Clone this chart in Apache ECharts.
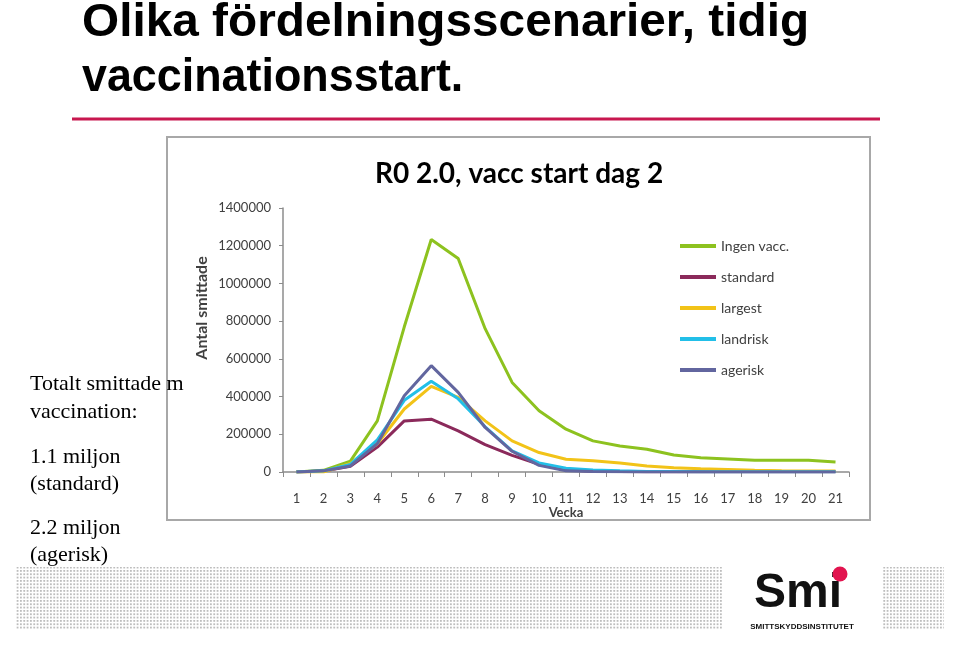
<!DOCTYPE html>
<html>
<head>
<meta charset="utf-8">
<script src="https://cdn.jsdelivr.net/npm/echarts@6/dist/echarts.min.js"></script>
<style>
html,body{margin:0;padding:0;background:#fff;}
#c{width:960px;height:645px;}
</style>
</head>
<body>
<div id="c"></div>
<script>
// ---- data ----
var weeks = ['1','2','3','4','5','6','7','8','9','10','11','12','13','14','15','16','17','18','19','20','21'];
var seriesNames = ['Ingen vacc.', 'standard', 'largest', 'landrisk', 'agerisk'];
var ingenVacc = [0, 9000, 58000, 271000, 770000, 1233000, 1132000, 760000, 475000, 325000, 227000, 165000, 138000, 121000, 90000, 76000, 69000, 62000, 62000, 62000, 53000];
var standard  = [0, 5000, 30000, 132000, 271000, 280000, 218000, 145000, 88000, 41000, 12000, 4000, 2000, 1000, 1000, 1000, 1000, 1000, 1000, 1000, 1000];
var largest   = [0, 0, 45000, 150000, 334000, 454000, 396000, 271000, 165000, 103000, 68000, 60000, 48000, 32000, 23000, 17000, 13000, 9000, 6000, 5000, 5000];
var landrisk  = [0, 6000, 40000, 170000, 380000, 481000, 388000, 240000, 112000, 48000, 20000, 10000, 6000, 3000, 2000, 1000, 1000, 1000, 1000, 1000, 1000];
var agerisk   = [0, 6000, 32000, 150000, 404000, 564000, 422000, 236000, 110000, 35000, 6000, 2000, 1000, 500, 500, 500, 500, 500, 500, 500, 500];
var yTicks = { min: 0, max: 1400000, interval: 200000 };
var pageTitle = ['Olika fördelningsscenarier, tidig', 'vaccinationsstart.'];
var chartTitle = 'R0 2.0, vacc start dag 2';
var sideText = ['Totalt smittade m', 'vaccination:', '1.1 miljon', '(standard)', '2.2 miljon', '(agerisk)'];

var colors = ['#8dc21f', '#8b2a5b', '#f2c318', '#22bfe8', '#62669f'];
var values = [ingenVacc, standard, largest, landrisk, agerisk];

// dot pattern
var pc = document.createElement('canvas');
pc.width = 10; pc.height = 10;
var pctx = pc.getContext('2d');
pctx.fillStyle = '#bdbdbd';
for (var i = 0; i < 3; i++) for (var j = 0; j < 3; j++) {
  pctx.fillRect(i * 10 / 3, j * 10 / 3, 1.8, 1.8);
}

var chart = echarts.init(document.getElementById('c'), null, { renderer: 'canvas' });

// baselines of side text lines (converted to middle: baseline - 0.3375*fontSize)
var sideBase = [392, 420, 465, 492, 536, 563];

var sansFont = '"Liberation Sans", Arial, sans-serif';
var graphics = [
  // chart frame
  { type: 'rect', shape: { x: 167, y: 137, width: 703, height: 383 }, style: { fill: '#fff', stroke: '#a8a8a8', lineWidth: 2 }, z: -10, silent: true },
  // red rule
  { type: 'rect', shape: { x: 72, y: 117.5, width: 808, height: 3 }, style: { fill: '#c8174f' }, silent: true },
  // dot panels
  { type: 'rect', shape: { x: 16, y: 567, width: 707, height: 62 }, style: { fill: { image: pc, repeat: 'repeat' } }, silent: true, z: -20 },
  { type: 'rect', shape: { x: 883, y: 567, width: 61, height: 62 }, style: { fill: { image: pc, repeat: 'repeat' } }, silent: true, z: -20 },
  // page title
  { type: 'text', x: 82, y: 39 - 0.3465 * 47, scaleX: 1.016, style: { text: pageTitle[0], font: 'bold 47px ' + sansFont, fill: '#000', verticalAlign: 'middle' }, silent: true },
  { type: 'text', x: 82, y: 94 - 0.3465 * 47, scaleX: 0.954, style: { text: pageTitle[1], font: 'bold 47px ' + sansFont, fill: '#000', verticalAlign: 'middle' }, silent: true },
  // chart title
  { type: 'text', x: 519, y: 174, style: { text: chartTitle, font: 'bold 28px Lato, sans-serif', fill: '#000', align: 'center', verticalAlign: 'middle' }, silent: true },
  // y axis name
  { type: 'text', x: 202, y: 308, rotation: Math.PI / 2, style: { text: 'Antal smittade', font: 'bold 16px Lato, sans-serif', fill: '#404040', align: 'center', verticalAlign: 'middle' }, silent: true },
  // logo
  { type: 'text', x: 754, y: 610 - 0.3465 * 48, style: { text: 'Smi', font: 'bold 48px ' + sansFont, fill: '#111', verticalAlign: 'middle' }, silent: true },
  { type: 'circle', shape: { cx: 840, cy: 574, r: 7.5 }, style: { fill: '#e2144f' }, silent: true, z: 10 },
  { type: 'text', x: 802, y: 627, style: { text: 'SMITTSKYDDSINSTITUTET', font: 'bold 8px ' + sansFont, fill: '#111', align: 'center', verticalAlign: 'middle' }, silent: true }
];
for (var k = 0; k < sideText.length; k++) {
  graphics.push({ type: 'text', x: 30, y: sideBase[k] - 0.3375 * 22, z: 20, style: { text: sideText[k], font: '22px "Liberation Serif", "Times New Roman", serif', fill: '#000', verticalAlign: 'middle' }, silent: true });
}

var series = [];
for (var s = 0; s < seriesNames.length; s++) {
  series.push({
    name: seriesNames[s],
    type: 'line',
    data: values[s],
    showSymbol: false,
    symbol: 'none',
    lineStyle: { width: 3, color: colors[s] },
    itemStyle: { color: colors[s] },
    animation: false,
    z: 2
  });
}

chart.setOption({
  animation: false,
  color: colors,
  grid: { left: 283, right: 111, top: 208, bottom: 173, containLabel: false },
  legend: {
    orient: 'vertical',
    left: 675,
    top: 234,
    itemWidth: 36,
    itemHeight: 4,
    itemGap: 17,
    icon: 'rect',
    textStyle: { fontFamily: 'Lato, sans-serif', fontSize: 14, color: '#404040' },
    data: seriesNames
  },
  xAxis: {
    type: 'category',
    data: weeks,
    boundaryGap: true,
    name: 'Vecka',
    nameLocation: 'middle',
    nameGap: 24,
    nameTextStyle: { fontFamily: 'Lato, sans-serif', fontSize: 13, fontWeight: 'bold', color: '#404040' },
    axisLine: { lineStyle: { color: '#8c8c8c', width: 1.5 } },
    axisTick: { show: true, length: 5, lineStyle: { color: '#8c8c8c' } },
    axisLabel: { fontFamily: 'Lato, sans-serif', fontSize: 13, color: '#404040', margin: 20, interval: 0 },
    splitLine: { show: false }
  },
  yAxis: {
    type: 'value',
    min: yTicks.min,
    max: yTicks.max,
    interval: yTicks.interval,
    axisLine: { show: true, lineStyle: { color: '#8c8c8c', width: 1.5 } },
    axisTick: { show: true, length: 4, lineStyle: { color: '#8c8c8c' } },
    axisLabel: { fontFamily: 'Lato, sans-serif', fontSize: 13, color: '#404040', margin: 12, formatter: function (v) { return String(v); } },
    splitLine: { show: false }
  },
  graphic: graphics,
  series: series
});
</script>
</body>
</html>
